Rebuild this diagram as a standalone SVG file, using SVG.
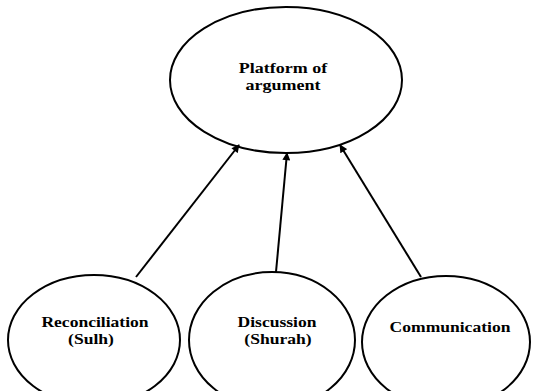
<svg xmlns="http://www.w3.org/2000/svg" width="544" height="391" viewBox="0 0 544 391">
<defs>
<style>
.node{fill:#fff;stroke:#000;stroke-width:2}
.lbl{font-family:"Liberation Serif","Times New Roman",serif;font-size:15px;font-weight:bold;fill:#000;text-anchor:middle}
.edge{stroke:#000;stroke-width:2;fill:none}
</style>
<marker id="arr" viewBox="0 0 10 10" refX="9" refY="5" markerWidth="9" markerHeight="8" markerUnits="userSpaceOnUse" orient="auto">
<path d="M0,0 L10,5 L0,10 z" fill="#000"/>
</marker>
</defs>
<rect width="544" height="391" fill="#fff"/>
<g id="platform">
<ellipse class="node" cx="286" cy="80" rx="116" ry="73"/>
<text class="lbl" transform="translate(283,72.5) scale(1.2,1)">Platform of</text>
<text class="lbl" transform="translate(283,89.5) scale(1.2,1)">argument</text>
</g>
<g id="reconciliation">
<ellipse class="node" cx="94" cy="340" rx="86" ry="65"/>
<text class="lbl" transform="translate(95,326.5) scale(1.17,1)">Reconciliation</text>
<text class="lbl" transform="translate(91,343.5) scale(1.17,1)">(Sulh)</text>
</g>
<g id="discussion">
<ellipse class="node" cx="272" cy="340" rx="83" ry="68"/>
<text class="lbl" transform="translate(277,326.5) scale(1.17,1)">Discussion</text>
<text class="lbl" transform="translate(278,343.5) scale(1.17,1)">(Shurah)</text>
</g>
<g id="communication">
<ellipse class="node" cx="446" cy="342" rx="84" ry="66"/>
<text class="lbl" transform="translate(450,332) scale(1.17,1)">Communication</text>
</g>
<g id="connectors">
<line class="edge" x1="136" y1="277" x2="239" y2="145" marker-end="url(#arr)"/>
<line class="edge" x1="276" y1="272" x2="287" y2="153" marker-end="url(#arr)"/>
<line class="edge" x1="421" y1="277" x2="340" y2="145" marker-end="url(#arr)"/>
</g>
</svg>
